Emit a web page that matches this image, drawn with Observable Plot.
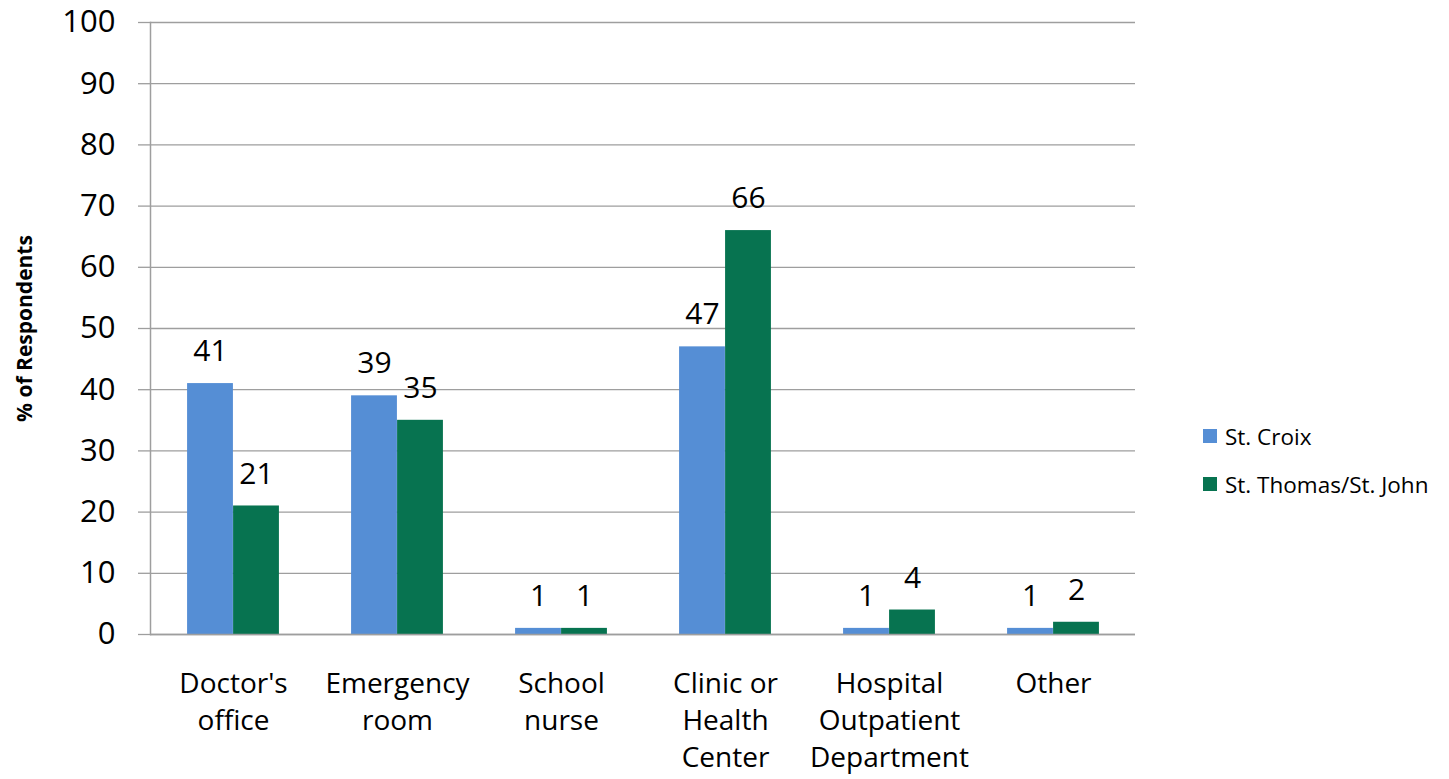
<!DOCTYPE html>
<html>
<head>
<meta charset="utf-8">
<script src="https://cdn.jsdelivr.net/npm/d3@7"></script>
<script src="https://cdn.jsdelivr.net/npm/@observablehq/plot@0.6"></script>
<style>
  html, body { margin: 0; padding: 0; background: #fff; }
  #wrap { position: relative; width: 1449px; height: 779px; font-family: "Open Sans", sans-serif; }
  #legend { position: absolute; left: 1203px; top: 422px; font-size: 22.5px; color: #000; }
  .row { display: flex; align-items: center; height: 28px; margin-bottom: 20px; }
  .sw { width: 14px; height: 14px; margin-right: 8px; }
</style>
</head>
<body>
<div id="wrap"></div>
<script>
const categories = ["Doctor's office", "Emergency room", "School nurse", "Clinic or Health Center", "Hospital Outpatient Department", "Other"];
const categoryLabels = ["Doctor's\noffice", "Emergency\nroom", "School\nnurse", "Clinic or\nHealth\nCenter", "Hospital\nOutpatient\nDepartment", "Other"];
const seriesNames = ["St. Croix", "St. Thomas/St. John"];
const stCroix = [41, 39, 1, 47, 1, 1];
const stThomas = [21, 35, 1, 66, 4, 2];
const colors = ["#558ed5", "#077350"];
const yTicks = [0, 10, 20, 30, 40, 50, 60, 70, 80, 90, 100];
const yLabel = "% of Respondents";

const data = [];
categories.forEach((c, i) => {
  data.push({category: c, series: seriesNames[0], value: stCroix[i]});
  data.push({category: c, series: seriesNames[1], value: stThomas[i]});
});
const labelOf = new Map(categories.map((c, i) => [c, categoryLabels[i]]));

const W = 1449, H = 779;
const mL = 150, mR = 314, mT = 22, mB = 145;
const step = (W - mL - mR) / categories.length;
const barW = 46;
const gridColor = "#9e9e9e";

const s0 = data.filter(d => d.series === seriesNames[0]);
const s1 = data.filter(d => d.series === seriesNames[1]);

const chart = Plot.plot({
  width: W, height: H,
  marginLeft: mL, marginRight: mR, marginTop: mT, marginBottom: mB,
  style: {fontFamily: "'Open Sans', sans-serif", color: "#000", background: "#fff"},
  x: {domain: categories, padding: 0, axis: null},
  y: {domain: [0, 100], axis: null},
  color: {domain: seriesNames, range: colors},
  marks: [
    Plot.gridY(yTicks, {stroke: gridColor, strokeOpacity: 1, strokeWidth: 1.3}),
    Plot.axisY(yTicks, {tickSize: 12, tickPadding: 23, stroke: gridColor, strokeWidth: 1.3, fontSize: 31, label: null, tickFormat: d => String(d)}),
    Plot.barY(s0, {x: "category", y: "value", fill: "series", insetLeft: step / 2 - barW, insetRight: step / 2}),
    Plot.barY(s1, {x: "category", y: "value", fill: "series", insetLeft: step / 2, insetRight: step / 2 - barW}),
    Plot.ruleY([0], {stroke: gridColor, strokeWidth: 1.5}),
    Plot.frame({anchor: "left", stroke: gridColor, strokeWidth: 1.5}),
    Plot.text(s0, {x: "category", y: "value", text: d => String(d.value), dx: -barW / 2, dy: -32, fontSize: 30, fill: "#000"}),
    Plot.text(s1, {x: "category", y: "value", text: d => String(d.value), dx: barW / 2, dy: -32, fontSize: 30, fill: "#000"}),
    Plot.axisX({tickSize: 0, tickPadding: 32, fontSize: 28, lineHeight: 1.33, tickFormat: d => labelOf.get(d), label: null}),
    Plot.text([yLabel], {frameAnchor: "left", dx: -125, rotate: -90, textAnchor: "middle", fontSize: 21, fontWeight: "bold", fill: "#000"})
  ]
});

const wrap = document.getElementById("wrap");
wrap.appendChild(chart);

const legend = document.createElement("div");
legend.id = "legend";
seriesNames.forEach((name, i) => {
  const row = document.createElement("div");
  row.className = "row";
  const sw = document.createElement("div");
  sw.className = "sw";
  sw.style.background = colors[i];
  const t = document.createElement("span");
  t.textContent = name;
  row.appendChild(sw);
  row.appendChild(t);
  legend.appendChild(row);
});
wrap.appendChild(legend);
</script>
</body>
</html>
